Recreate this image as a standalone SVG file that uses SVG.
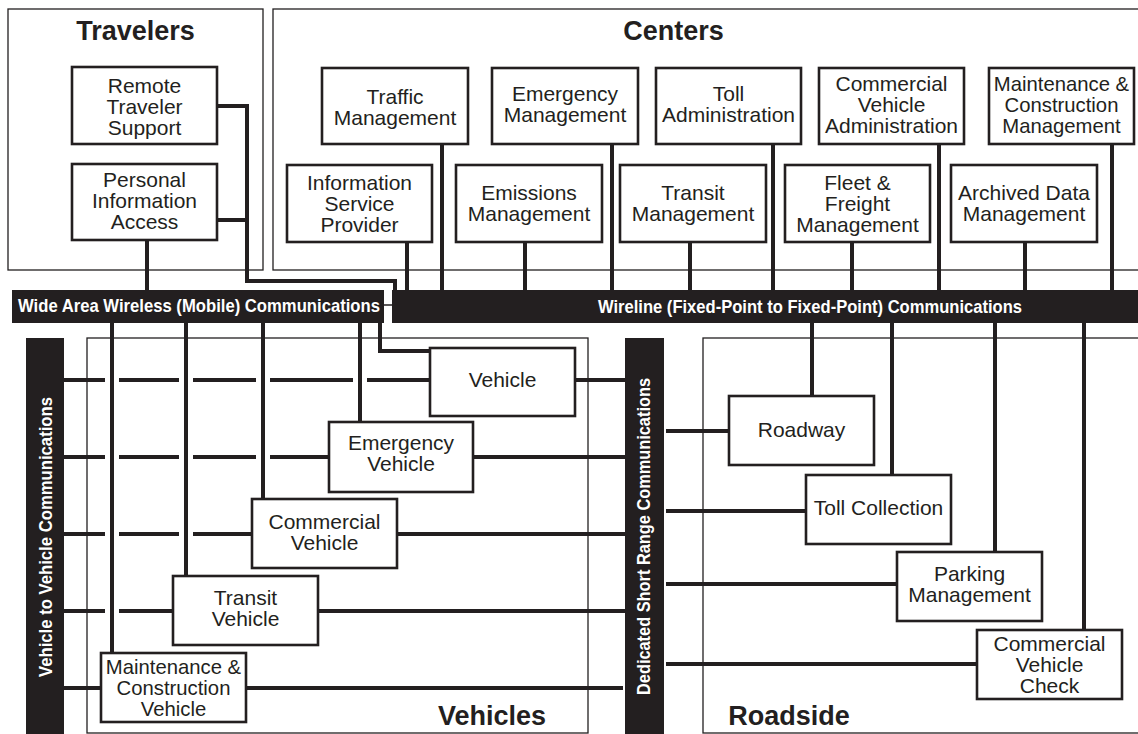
<svg xmlns="http://www.w3.org/2000/svg" width="1138" height="734" viewBox="0 0 1138 734">
<style>
.grp{fill:none;stroke:#231f20;stroke-width:1.3}
.node rect{fill:#fff;stroke:#231f20;stroke-width:2.6}
.node text{font-family:"Liberation Sans",Arial,sans-serif;font-size:21px;fill:#231f20;text-anchor:middle}
.node text.tight{font-size:20.3px}
.title{font-family:"Liberation Sans",Arial,sans-serif;font-size:27px;font-weight:bold;fill:#231f20;text-anchor:middle}
.bar{fill:#231f20}
.bartext{font-family:"Liberation Sans",Arial,sans-serif;font-size:18.5px;font-weight:bold;fill:#fff}
.c{fill:none;stroke:#231f20;stroke-width:4}
.thin{fill:none;stroke:#231f20;stroke-width:1.5}
</style>
<rect width="1138" height="734" fill="#fff"/>

<g id="groups">
<rect class="grp" x="8" y="9" width="255" height="261"/>
<rect class="grp" x="273" y="9" width="880" height="261"/>
<rect class="grp" x="87" y="338" width="501" height="395"/>
<rect class="grp" x="703" y="338" width="450" height="395"/>
<text class="title" x="135.5" y="40">Travelers</text>
<text class="title" x="673.5" y="40">Centers</text>
<text class="title" x="492" y="725">Vehicles</text>
<text class="title" x="789" y="725">Roadside</text>
</g>

<g id="buses">
<g id="wide-area">
<rect class="bar" x="12" y="290" width="372" height="33"/>
<text class="bartext" x="18" y="311.5" textLength="362" lengthAdjust="spacingAndGlyphs">Wide Area Wireless (Mobile) Communications</text>
</g>
<g id="wireline">
<rect class="bar" x="392" y="290" width="750" height="33"/>
<text class="bartext" x="598" y="312.5" textLength="424" lengthAdjust="spacingAndGlyphs">Wireline (Fixed-Point to Fixed-Point) Communications</text>
</g>
<g id="v2v">
<rect class="bar" x="26" y="338" width="38" height="400"/>
<text class="bartext" transform="translate(52,537) rotate(-90)" text-anchor="middle" textLength="280" lengthAdjust="spacingAndGlyphs">Vehicle to Vehicle Communications</text>
</g>
<g id="dsrc">
<rect class="bar" x="625" y="338" width="39" height="400"/>
<text class="bartext" transform="translate(650,536.5) rotate(-90)" text-anchor="middle" textLength="317" lengthAdjust="spacingAndGlyphs">Dedicated Short Range Communications</text>
</g>
</g>

<g id="connectors">
<path class="c" d="M217,106 H247 V281 H395 V290"/>
<path class="c" d="M217,220 H247"/>
<path class="c" d="M147,240 V290"/>
<path class="thin" d="M384,305 H392"/>
<path class="c" d="M442,144 V290 M612,144 V290 M773,144 V290 M939,144 V290 M1112,144 V290"/>
<path class="c" d="M407,242 V290 M525,242 V290 M690,242 V290 M852,242 V290 M1025,242 V290"/>
<path class="c" d="M112,323 V653 M186,323 V576 M263,323 V499 M360,323 V422"/>
<path class="c" d="M380,323 V351 H430"/>
<path class="c" d="M64,380 H105 M119,380 H179 M193,380 H256 M270,380 H353 M367,380 H430"/>
<path class="c" d="M64,457 H105 M119,457 H179 M193,457 H256 M270,457 H329"/>
<path class="c" d="M64,534 H105 M119,534 H179 M193,534 H252"/>
<path class="c" d="M64,611 H105 M119,611 H173"/>
<path class="c" d="M64,688 H101"/>
<path class="c" d="M575,380 H625 M473,457 H625 M397,534 H625 M318,611 H625 M246,688 H623"/>
<path class="c" d="M666,431 H729 M666,511 H806 M666,584 H897 M666,664 H977"/>
<path class="c" d="M812,323 V396 M892,323 V475 M995,323 V552 M1084,323 V630"/>
</g>

<g id="remote-traveler-support" class="node"><rect x="72" y="67" width="145" height="77"/>
<text x="144.5" y="93">Remote</text><text x="144.5" y="114">Traveler</text><text x="144.5" y="135">Support</text></g>
<g id="personal-information-access" class="node"><rect x="72" y="164" width="145" height="76"/>
<text x="144.5" y="186.5">Personal</text><text x="144.5" y="207.5">Information</text><text x="144.5" y="228.5">Access</text></g>

<g id="traffic-management" class="node"><rect x="322" y="68" width="146" height="76"/>
<text x="395" y="103.5">Traffic</text><text x="395" y="124.5">Management</text></g>
<g id="emergency-management" class="node"><rect x="492" y="68" width="146" height="76"/>
<text x="565" y="100.5">Emergency</text><text x="565" y="121.5">Management</text></g>
<g id="toll-administration" class="node"><rect x="656" y="68" width="145" height="76"/>
<text x="728.5" y="100.5">Toll</text><text x="728.5" y="121.5">Administration</text></g>
<g id="commercial-vehicle-administration" class="node"><rect x="819" y="68" width="145" height="76"/>
<text x="891.5" y="90.5">Commercial</text><text x="891.5" y="111.5">Vehicle</text><text x="891.5" y="132.5">Administration</text></g>
<g id="maintenance-construction-management" class="node"><rect x="989" y="68" width="145" height="76"/>
<text class="tight" x="1061.5" y="90.5">Maintenance &amp;</text><text class="tight" x="1061.5" y="111.5">Construction</text><text class="tight" x="1061.5" y="132.5">Management</text></g>
<g id="information-service-provider" class="node"><rect x="287" y="165" width="145" height="77"/>
<text x="359.5" y="190">Information</text><text x="359.5" y="211">Service</text><text x="359.5" y="232">Provider</text></g>
<g id="emissions-management" class="node"><rect x="456" y="165" width="146" height="77"/>
<text x="529" y="200">Emissions</text><text x="529" y="221">Management</text></g>
<g id="transit-management" class="node"><rect x="620" y="165" width="146" height="77"/>
<text x="693" y="200">Transit</text><text x="693" y="221">Management</text></g>
<g id="fleet-freight-management" class="node"><rect x="785" y="165" width="145" height="77"/>
<text x="857.5" y="190">Fleet &amp;</text><text x="857.5" y="211">Freight</text><text x="857.5" y="232">Management</text></g>
<g id="archived-data-management" class="node"><rect x="951" y="165" width="146" height="77"/>
<text x="1024" y="200">Archived Data</text><text x="1024" y="221">Management</text></g>

<g id="vehicle" class="node"><rect x="430" y="348" width="145" height="68"/>
<text x="502.5" y="387">Vehicle</text></g>
<g id="emergency-vehicle" class="node"><rect x="329" y="422" width="144" height="70"/>
<text x="401" y="450">Emergency</text><text x="401" y="471">Vehicle</text></g>
<g id="commercial-vehicle" class="node"><rect x="252" y="499" width="145" height="69"/>
<text x="324.5" y="528.5">Commercial</text><text x="324.5" y="549.5">Vehicle</text></g>
<g id="transit-vehicle" class="node"><rect x="173" y="576" width="145" height="69"/>
<text x="245.5" y="605">Transit</text><text x="245.5" y="626">Vehicle</text></g>
<g id="maintenance-construction-vehicle" class="node"><rect x="101" y="653" width="145" height="69"/>
<text class="tight" x="173.5" y="674">Maintenance &amp;</text><text class="tight" x="173.5" y="695">Construction</text><text class="tight" x="173.5" y="716">Vehicle</text></g>

<g id="roadway" class="node"><rect x="729" y="396" width="145" height="69"/>
<text x="801.5" y="437">Roadway</text></g>
<g id="toll-collection" class="node"><rect x="806" y="475" width="145" height="69"/>
<text x="878.5" y="515">Toll Collection</text></g>
<g id="parking-management" class="node"><rect x="897" y="552" width="145" height="69"/>
<text x="969.5" y="580.5">Parking</text><text x="969.5" y="601.5">Management</text></g>
<g id="commercial-vehicle-check" class="node"><rect x="977" y="630" width="145" height="69"/>
<text x="1049.5" y="650.5">Commercial</text><text x="1049.5" y="671.5">Vehicle</text><text x="1049.5" y="692.5">Check</text></g>
</svg>
